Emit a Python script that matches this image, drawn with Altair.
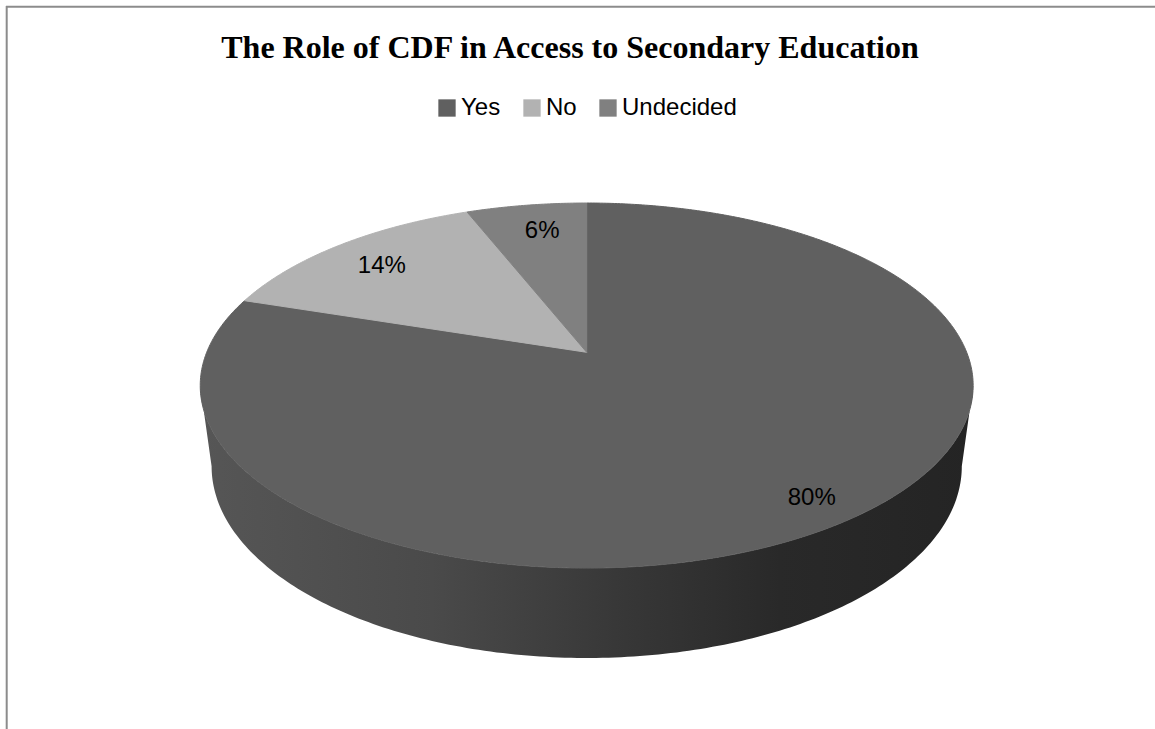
import numpy as np
import pandas as pd
import altair as alt

# ---- data ----
categories = ["Yes", "No", "Undecided"]
values = [80, 14, 6]
value_labels = ["80%", "14%", "6%"]
title_text = "The Role of CDF in Access to Secondary Education"

# ---- styles ----
slice_colors = ["#606060", "#b2b2b2", "#808080"]
side_stops = [("#565656", 0.0), ("#4a4a4a", 0.3), ("#373737", 0.55), ("#292929", 0.75), ("#242424", 1.0)]
W, H = 1155, 729

# ---- 3-D projection (layout) ----
CX, CY = 586.7, 352.3
FX, FY = 1800.0, 1653.0
S = 0.5057
C = float(np.sqrt(1 - S * S))
DIST = 4.737
DEPTH = 0.274
LABEL_R = 0.85


def project(theta_deg, h=0.0, r=1.0):
    t = np.radians(theta_deg)
    X = r * np.sin(t)
    Z = r * np.cos(t)
    yc = Z * S - h * C
    zc = DIST + Z * C + h * S
    return CX + FX * X / zc, CY - FY * yc / zc


def extremes(h):
    w = DIST + h * S
    tr = float(np.degrees(np.arccos(-C / w)))
    return tr, 360.0 - tr


# slice angles from the values
total = float(sum(values))
ends = np.cumsum(values) / total * 360.0
starts = np.concatenate([[0.0], ends[:-1]])

# top faces
rows = []
for cat, a, b in zip(categories, starts, ends):
    x0, y0 = project(0, 0, 0)
    rows.append({"category": cat, "i": 0, "x": x0, "y": y0})
    n = max(3, int(b - a) * 2 + 1)
    for k, t in enumerate(np.linspace(a, b, n)):
        x, y = project(t)
        rows.append({"category": cat, "i": k + 1, "x": x, "y": y})
top_df = pd.DataFrame(rows)

# visible front side (part of the slices facing the viewer)
side_rows = []
tr0, tl0 = extremes(0)
trH, tlH = extremes(DEPTH)
for cat, a, b in zip(categories, starts, ends):
    lo, hi = max(a, tr0), min(b, tl0)
    if hi <= lo:
        continue
    pts = []
    for t in np.linspace(lo, hi, 200):
        pts.append(project(t, 0))
    for h in np.linspace(0, DEPTH, 12):
        t = extremes(h)[1] if hi >= tl0 else hi
        pts.append(project(t, h))
    lo2 = trH if lo <= tr0 else lo
    hi2 = tlH if hi >= tl0 else hi
    for t in np.linspace(hi2, lo2, 200):
        pts.append(project(t, DEPTH))
    for h in np.linspace(DEPTH, 0, 12):
        t = extremes(h)[0] if lo <= tr0 else lo
        pts.append(project(t, h))
    for k, (x, y) in enumerate(pts):
        side_rows.append({"category": cat, "i": k, "x": x, "y": y})
side_df = pd.DataFrame(side_rows)

# labels
lab_rows = []
for cat, lab, a, b in zip(categories, value_labels, starts, ends):
    x, y = project((a + b) / 2, 0, LABEL_R)
    lab_rows.append({"category": cat, "label": lab, "x": x, "y": y})
lab_df = pd.DataFrame(lab_rows)

xs = alt.Scale(domain=[0, W], nice=False, zero=False)
ys = alt.Scale(domain=[0, H], nice=False, zero=False, reverse=True)

X = alt.X("x:Q", scale=xs, axis=None)
Y = alt.Y("y:Q", scale=ys, axis=None)

gradient = alt.Gradient(
    gradient="linear",
    stops=[alt.GradientStop(color=c, offset=o) for c, o in side_stops],
    x1=0, x2=1, y1=0, y2=0,
)

side = alt.Chart(side_df).mark_line(
    filled=True, fill=gradient, strokeWidth=0, interpolate="linear-closed"
).encode(x=X, y=Y, detail="category:N", order="i:Q")

top = alt.Chart(top_df).mark_line(
    filled=True, strokeWidth=1, interpolate="linear-closed"
).encode(
    x=X, y=Y,
    order="i:Q",
    color=alt.Color(
        "category:N",
        scale=alt.Scale(domain=categories, range=slice_colors),
        legend=alt.Legend(
            title=None, orient="none", legendX=435, legendY=96,
            direction="horizontal", symbolType="square", symbolSize=300,
            symbolStrokeWidth=0, labelFont="Liberation Sans", labelFontSize=24,
            labelColor="black", columnPadding=19, labelOffset=2,
        ),
    ),
    stroke=alt.Stroke(
        "category:N",
        scale=alt.Scale(domain=categories, range=slice_colors),
        legend=None,
    ),
)

labels = alt.Chart(lab_df).mark_text(
    font="Liberation Sans", fontSize=24, color="black", baseline="middle",
    align="center", dx=8, dy=7,
).encode(x=X, y=Y, text="label:N")

title = alt.Chart(pd.DataFrame({"t": [title_text]})).mark_text(
    font="Liberation Serif", fontSize=32, fontWeight="bold", color="black",
    baseline="alphabetic", align="center",
).encode(x=alt.value(570), y=alt.value(58), text="t:N")

border_top = alt.Chart(pd.DataFrame({"a": [0]})).mark_rule(
    color="#8c8c8c", strokeWidth=2
).encode(x=alt.value(6), x2=alt.value(W), y=alt.value(6.7))
border_left = alt.Chart(pd.DataFrame({"a": [0]})).mark_rule(
    color="#8c8c8c", strokeWidth=2
).encode(x=alt.value(6.7), y=alt.value(6), y2=alt.value(H))

chart = alt.layer(border_top, border_left, side, top, labels, title).properties(
    width=W, height=H, autosize=alt.AutoSizeParams(type="none"), padding=0,
    background="white",
).configure_view(stroke=None)

chart.save("out.html", embed_options={"renderer": "svg", "actions": False})
